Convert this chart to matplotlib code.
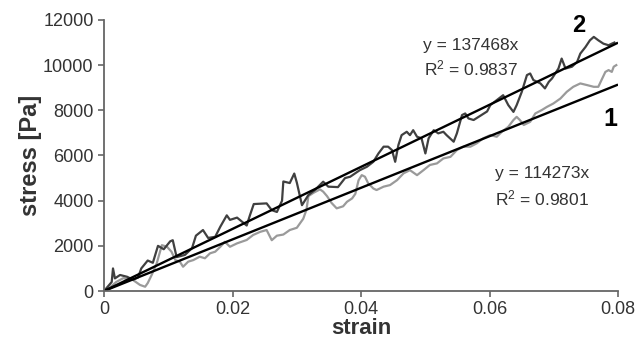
import numpy as np
import matplotlib
matplotlib.use("Agg")
import matplotlib.pyplot as plt

plt.rcParams["font.family"] = ["Liberation Sans", "DejaVu Sans"]
plt.rcParams["mathtext.fontset"] = "custom"
plt.rcParams["mathtext.rm"] = "Liberation Sans"
plt.rcParams["mathtext.it"] = "Liberation Sans"

# curve 2 (dark gray) - strain / stress [Pa]
strain_2 = [0, 0.0006, 0.0012, 0.0014, 0.0017, 0.0025, 0.0036, 0.0045, 0.0053, 0.0058,
            0.0068, 0.0076, 0.0084, 0.0093, 0.0103, 0.0107, 0.0113, 0.0126, 0.0137, 0.0143,
            0.0154, 0.0162, 0.0173, 0.0181, 0.0191, 0.0196, 0.0207, 0.0222, 0.0227, 0.0233,
            0.0253, 0.0261, 0.0269, 0.0277, 0.0279, 0.0289, 0.0296, 0.0300, 0.0308, 0.0318,
            0.0328, 0.0341, 0.0349, 0.0364, 0.0375, 0.0383, 0.0398, 0.0409, 0.0419, 0.0427,
            0.0435, 0.0442, 0.0448, 0.0453, 0.0458, 0.0463, 0.0471, 0.0476, 0.0481, 0.0487,
            0.0494, 0.0500, 0.0505, 0.0513, 0.0520, 0.0528, 0.0533, 0.0544, 0.0549, 0.0557,
            0.0562, 0.0567, 0.0575, 0.0585, 0.0596, 0.0601, 0.0611, 0.0621, 0.0629, 0.0637,
            0.0642, 0.0650, 0.0658, 0.0663, 0.0668, 0.0679, 0.0686, 0.0692, 0.0697, 0.0707,
            0.0712, 0.0718, 0.0728, 0.0736, 0.0741, 0.0749, 0.0756, 0.0762, 0.0769, 0.0777,
            0.0785, 0.0790, 0.0794]
stress_2 = [0, 200, 400, 1000, 560, 710, 630, 500, 600, 1000,
            1350, 1250, 2000, 1850, 2200, 2250, 1500, 1600, 1900, 2450,
            2700, 2350, 2400, 2850, 3350, 3150, 3250, 2900, 3350, 3850,
            3880, 3580, 3500, 4000, 4850, 4780, 5200, 4800, 3800, 4250,
            4470, 4840, 4620, 4600, 5000, 5060, 5350, 5500, 5720, 6090,
            6390, 6390, 6240, 5720, 6460, 6900, 7050, 6900, 7120, 6830,
            6760, 6090, 6760, 7120, 6980, 7050, 6900, 6610, 6980, 7790,
            7860, 7640, 7570, 7750, 7950, 8230, 8450, 8670, 8230, 7930,
            8230, 8820, 9560, 9630, 9340, 9190, 8970, 9260, 9410, 9850,
            10290, 9850, 9930, 10140, 10510, 10800, 11100, 11250, 11100, 10950,
            10880, 10950, 11000]

# curve 1 (light gray)
strain_1 = [0, 0.0009, 0.0019, 0.0030, 0.0045, 0.0056, 0.0064, 0.0068, 0.0074, 0.0082,
            0.0090, 0.0098, 0.0105, 0.0111, 0.0118, 0.0123, 0.0131, 0.0139, 0.0149, 0.0157,
            0.0165, 0.0173, 0.0181, 0.0188, 0.0196, 0.0207, 0.0214, 0.0222, 0.0232, 0.0243,
            0.0253, 0.0261, 0.0269, 0.0279, 0.0289, 0.0300, 0.0310, 0.0315, 0.0318, 0.0326,
            0.0336, 0.0341, 0.0347, 0.0354, 0.0362, 0.0372, 0.0378, 0.0386, 0.0391, 0.0396,
            0.0401, 0.0406, 0.0411, 0.0419, 0.0424, 0.0435, 0.0445, 0.0456, 0.0466, 0.0476,
            0.0487, 0.0497, 0.0507, 0.0518, 0.0528, 0.0539, 0.0549, 0.0559, 0.0570, 0.0580,
            0.0590, 0.0601, 0.0611, 0.0619, 0.0629, 0.0637, 0.0642, 0.0647, 0.0653, 0.0663,
            0.0671, 0.0681, 0.0689, 0.0699, 0.0710, 0.0720, 0.0730, 0.0741, 0.0751, 0.0762,
            0.0769, 0.0774, 0.0780, 0.0785, 0.0790, 0.0793, 0.0797]
stress_1 = [0, 150, 400, 570, 490, 270, 190, 350, 700, 1220,
            2030, 1960, 1740, 1370, 1300, 1075, 1300, 1370, 1520, 1450,
            1670, 1740, 1960, 2180, 1960, 2110, 2180, 2260, 2480, 2620,
            2700, 2250, 2450, 2500, 2700, 2800, 3200, 3600, 4200, 4350,
            4500, 4400, 4200, 3900, 3660, 3750, 3950, 4100, 4300, 4900,
            5130, 5060, 4770, 4540, 4470, 4620, 4690, 4910, 5210, 5350,
            5130, 5350, 5580, 5650, 5870, 5940, 6240, 6390, 6390, 6540,
            6760, 6900, 6830, 7050, 7270, 7570, 7710, 7570, 7350, 7490,
            7860, 8010, 8150, 8300, 8520, 8820, 9040, 9190, 9120, 9040,
            9040, 9340, 9700, 9780, 9700, 9930, 10000]

# linear fits through origin
slope_2 = 137468
slope_1 = 114273
r2_2 = 0.9837
r2_1 = 0.9801

fig = plt.figure(figsize=(6.38, 3.44), dpi=100)
ax = fig.add_axes([0.163, 0.154, 0.806, 0.788])

ax.plot(strain_1, stress_1, color="#9a9a9a", lw=1.6)
ax.plot(strain_2, stress_2, color="#404040", lw=1.6)

xfit = np.array([0, 0.0798])
ax.plot(xfit, slope_2 * xfit, color="black", lw=1.7)
ax.plot(xfit, slope_1 * xfit, color="black", lw=1.7)

ax.set_xlim(0, 0.08)
ax.set_ylim(0, 12000)
ax.set_xticks([0, 0.02, 0.04, 0.06, 0.08])
ax.set_xticklabels(["0", "0.02", "0.04", "0.06", "0.08"])
ax.set_yticks(range(0, 12001, 2000))

for s in ["top", "right"]:
    ax.spines[s].set_visible(False)
for s in ["left", "bottom"]:
    ax.spines[s].set_color("#666666")
    ax.spines[s].set_linewidth(1.3)
ax.tick_params(direction="out", length=4, width=1.2, color="#666666",
               labelsize=13, labelcolor="#333333")

ax.set_xlabel("strain", fontsize=16, fontweight="bold", color="#333333", labelpad=0)
ax.set_ylabel("stress [Pa]", fontsize=17, fontweight="bold", color="#333333", labelpad=1)

ax.text(0.0571, 10885, f"y = {slope_2}x", fontsize=12.5, color="#333333",
        ha="center", va="center")
ax.text(0.0571, 9870, f"R$^2$ = {r2_2}", fontsize=12.5, color="#333333",
        ha="center", va="center")
ax.text(0.0682, 5220, f"y = {slope_1}x", fontsize=12.5, color="#333333",
        ha="center", va="center")
ax.text(0.0682, 4115, f"R$^2$ = {r2_1}", fontsize=12.5, color="#333333",
        ha="center", va="center")
ax.text(0.0738, 11770, "2", fontsize=17, fontweight="bold", ha="center", va="center",
        clip_on=False)
ax.text(0.0788, 7610, "1", fontsize=18, fontweight="bold", ha="center", va="center",
        clip_on=False)

fig.savefig("out.png", dpi=100)
